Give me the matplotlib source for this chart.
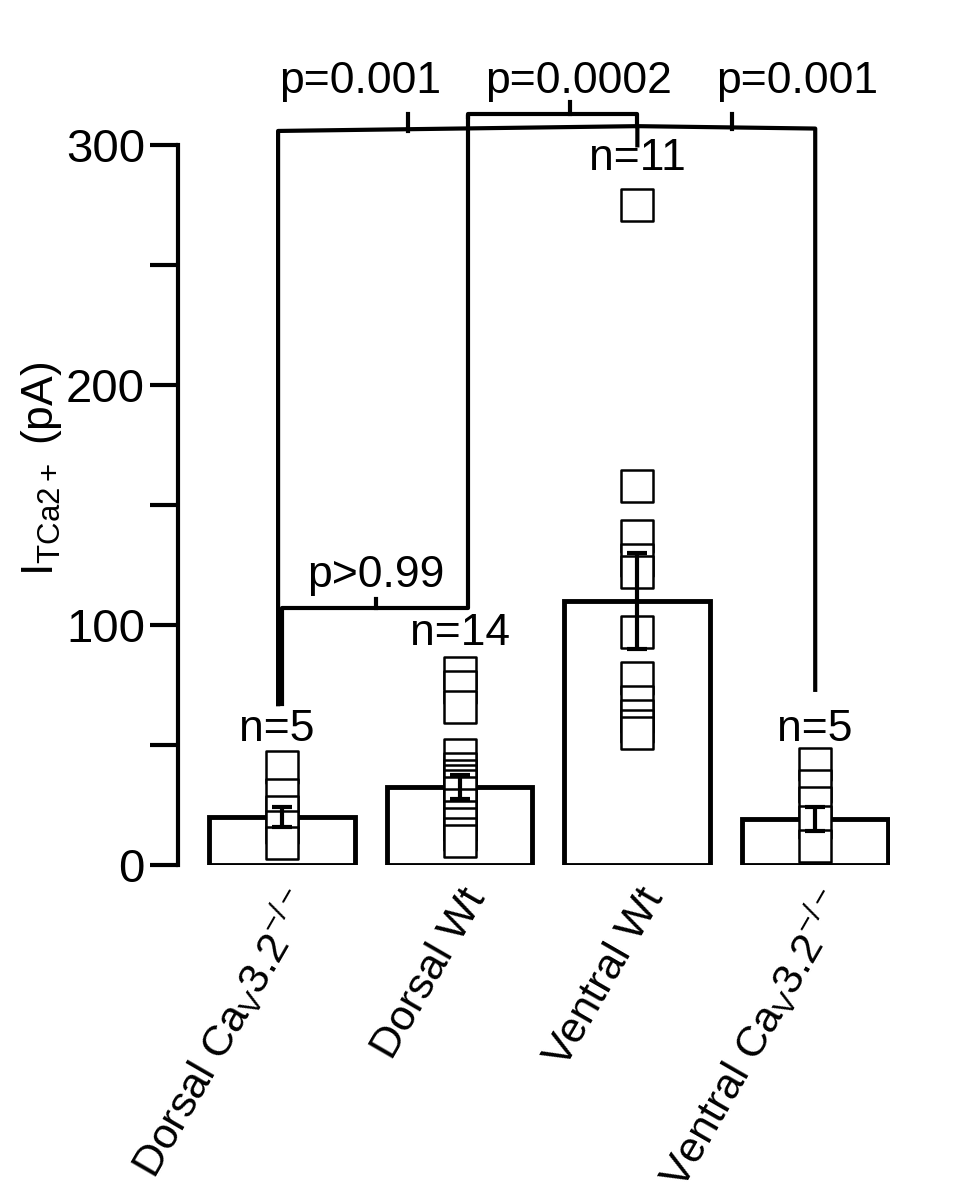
import numpy as np
import matplotlib
matplotlib.use("Agg")
import matplotlib.pyplot as plt

plt.rcParams["font.family"] = "Liberation Sans"
plt.rcParams["mathtext.fontset"] = "custom"
plt.rcParams["mathtext.rm"] = "Liberation Sans"
plt.rcParams["mathtext.it"] = "Liberation Sans"

groups = ["Dorsal Ca$_\\mathregular{V}$3.2$^{-/-}$", "Dorsal Wt", "Ventral Wt",
          "Ventral Ca$_\\mathregular{V}$3.2$^{-/-}$"]
means = [20, 32.5, 110, 19]
sems = [4, 5, 20, 5]
n_labels = ["n=5", "n=14", "n=11", "n=5"]
points = [
    [41, 29, 22, 16, 9],
    [80, 74, 66, 46, 40, 37, 35, 33, 30, 25, 20, 17, 13, 10],
    [275, 158, 137, 127, 122, 97, 78, 68, 62, 58, 55],
    [42, 33, 26, 18, 8],
]

fig = plt.figure(figsize=(9.6, 12.03), dpi=100)
ax = fig.add_axes([0.185, 0.281, 0.742, 0.658])
x = np.arange(len(groups))
ax.bar(x, means, width=0.82, facecolor="white", edgecolor="black", linewidth=3.5, zorder=2)
for i, vals in enumerate(points):
    ax.scatter(np.full(len(vals), x[i]), vals, marker="s", s=500, facecolor="white",
               edgecolor="black", linewidth=1.8, zorder=3)
    ax.errorbar(x[i], means[i], yerr=sems[i], color="black", capsize=7,
                capthick=3, elinewidth=3, zorder=4)

lw = 3
fs = 32
# p>0.99 bracket
ax.plot([0, 0, 1.05, 1.05], [67, 107, 107, 312], color="black", lw=lw)
ax.plot([0.53, 0.53], [107, 111], color="black", lw=lw)
ax.text(0.53, 112, "p>0.99", ha="center", va="bottom", fontsize=fs)
# top brackets
ax.plot([-0.02, -0.02, 2, 2], [67, 306, 308, 300], color="black", lw=lw)
ax.plot([0.71, 0.71], [306, 313], color="black", lw=lw)
ax.text(0.44, 318, "p=0.001", ha="center", va="bottom", fontsize=fs)
ax.plot([1.05, 1.05, 2, 2], [312, 313, 313, 308], color="black", lw=lw)
ax.plot([1.62, 1.62], [313, 318], color="black", lw=lw)
ax.text(1.67, 318, "p=0.0002", ha="center", va="bottom", fontsize=fs)
ax.plot([2, 3, 3], [308, 307, 73], color="black", lw=lw)
ax.plot([2.53, 2.53], [307, 313], color="black", lw=lw)
ax.text(2.9, 318, "p=0.001", ha="center", va="bottom", fontsize=fs)

n_y = [48, 88, 286, 48]
for i, t in enumerate(n_labels):
    ax.text(x[i] + (-0.03 if i == 0 else 0), n_y[i], t, ha="center", va="bottom", fontsize=fs)

ax.set_xlim(-0.585, 3.42)
ax.set_ylim(0, 330)
ax.set_yticks([0, 100, 200, 300])
ax.set_yticks([50, 150, 250], minor=True)
ax.tick_params(axis="y", which="both", width=3, length=20, labelsize=34)
ax.spines["left"].set_bounds(0, 300)
ax.spines["left"].set_linewidth(3)
for s in ["top", "right", "bottom"]:
    ax.spines[s].set_visible(False)
ax.set_xticks(x)
ax.set_xticklabels(groups, rotation=60, ha="right", rotation_mode="anchor", fontsize=31)
ax.tick_params(axis="x", length=0, pad=12)
ax.set_ylabel("I$_\\mathregular{TCa2+}$ (pA)", fontsize=32)
ax.yaxis.set_label_coords(-0.16, 0.5)
fig.savefig("out.png", dpi=100)
